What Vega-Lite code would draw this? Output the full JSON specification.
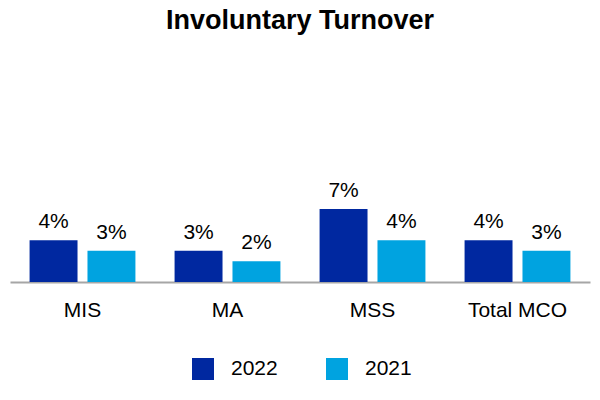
{
  "$schema": "https://vega.github.io/schema/vega-lite/v6.json",
  "width": 580,
  "height": 222,
  "autosize": {"type": "none"},
  "padding": {"left": 10, "top": 60, "right": 10, "bottom": 118},
  "background": "white",
  "title": {
    "text": "Involuntary Turnover",
    "font": "Liberation Sans",
    "fontSize": 27,
    "fontWeight": "bold",
    "color": "#000000",
    "anchor": "middle",
    "offset": 25
  },
  "config": {
    "view": {"stroke": null},
    "font": "Liberation Sans"
  },
  "data": {
    "values": [
      {"group": "MIS", "year": "2022", "value": 0.04},
      {"group": "MIS", "year": "2021", "value": 0.03},
      {"group": "MA", "year": "2022", "value": 0.03},
      {"group": "MA", "year": "2021", "value": 0.02},
      {"group": "MSS", "year": "2022", "value": 0.07},
      {"group": "MSS", "year": "2021", "value": 0.04},
      {"group": "Total MCO", "year": "2022", "value": 0.04},
      {"group": "Total MCO", "year": "2021", "value": 0.03}
    ]
  },
  "encoding": {
    "x": {
      "field": "group",
      "type": "nominal",
      "sort": ["MIS", "MA", "MSS", "Total MCO"],
      "scale": {"paddingInner": 0.27, "paddingOuter": 0.135},
      "axis": {
        "title": null,
        "labelAngle": 0,
        "ticks": false,
        "labelFontSize": 21,
        "labelColor": "#000000",
        "labelPadding": 17,
        "domainColor": "#a6a6a6",
        "domainWidth": 2,
        "grid": false
      }
    },
    "xOffset": {
      "field": "year",
      "type": "nominal",
      "sort": ["2022", "2021"],
      "scale": {"paddingInner": 0.172, "paddingOuter": 0}
    },
    "y": {
      "field": "value",
      "type": "quantitative",
      "scale": {"domain": [0, 0.213], "nice": false},
      "axis": null
    }
  },
  "layer": [
    {
      "mark": {"type": "bar"},
      "encoding": {
        "color": {
          "field": "year",
          "type": "nominal",
          "scale": {"domain": ["2022", "2021"], "range": ["#0028a0", "#00a3e0"]},
          "legend": {
            "title": null,
            "orient": "none",
            "legendX": 182,
            "legendY": 298,
            "direction": "horizontal",
            "symbolType": "square",
            "symbolSize": 484,
            "symbolStrokeWidth": 0,
            "labelFontSize": 21,
            "labelColor": "#000000",
            "labelOffset": 17,
            "columnPadding": 48
          }
        }
      }
    },
    {
      "mark": {"type": "text", "baseline": "alphabetic", "dy": -12, "fontSize": 21, "color": "#000000"},
      "encoding": {
        "text": {"field": "value", "type": "quantitative", "format": ".0%"},
        "xOffset": {"field": "year", "type": "nominal", "sort": ["2022", "2021"]}
      }
    }
  ]
}
